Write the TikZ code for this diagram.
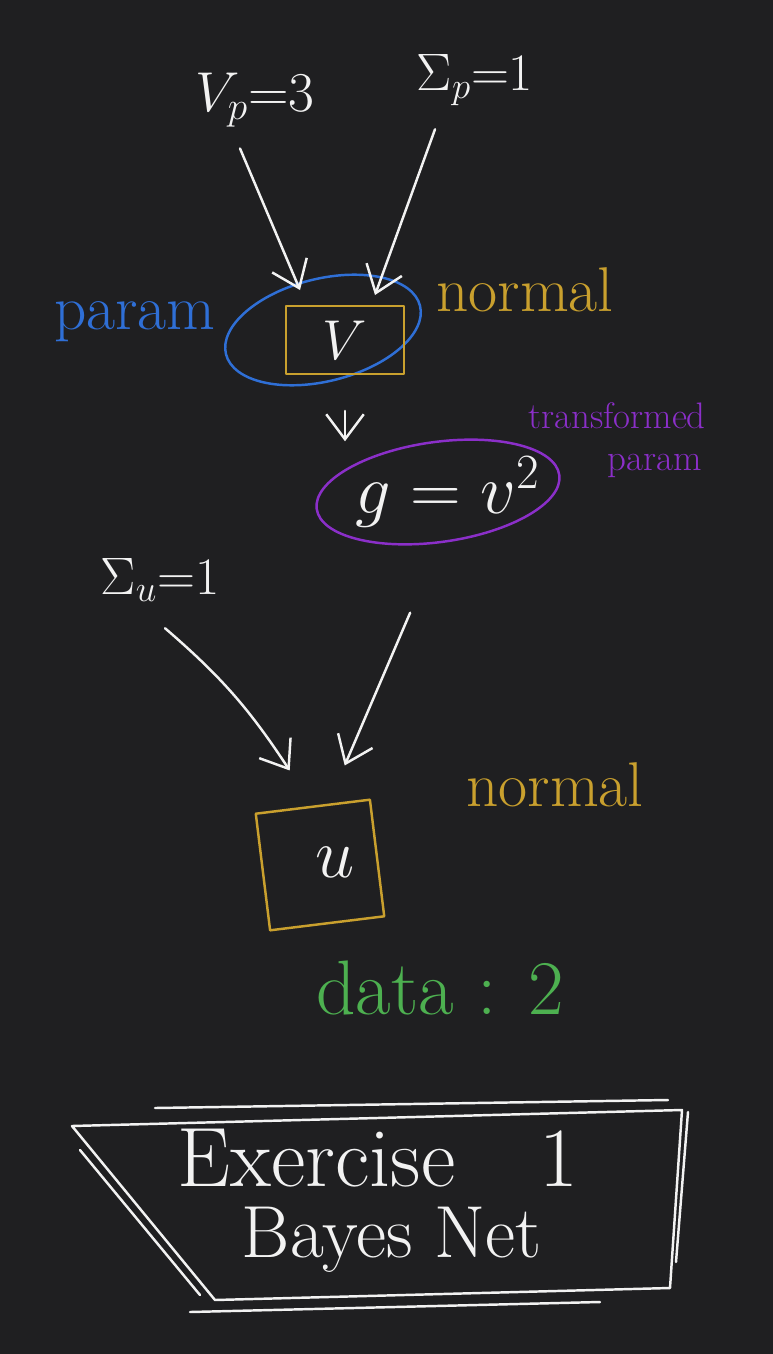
\RequirePackage{fix-cm}
\documentclass[tikz,border=0pt]{standalone}
\usetikzlibrary{arrows.meta,shapes.geometric}
\definecolor{board}{HTML}{1F1F21}
\definecolor{chalk}{HTML}{F2F2F2}
\definecolor{pblue}{HTML}{2F6FD6}
\definecolor{pgold}{HTML}{C9A02E}
\definecolor{ppurple}{HTML}{8B2FC9}
\definecolor{pgreen}{HTML}{4DB050}
\begin{document}
\begin{tikzpicture}[x=0.02cm, y=-0.02cm, line width=1.4pt,
  line cap=round, line join=round,
  every node/.style={inner sep=0pt},
  hand/.style={font=\fontsize{#1}{#1}\selectfont},
  arr/.style={draw=chalk, -{Straight Barb[length=0.5cm, width=0.75cm]}},
  box/.style={draw=pgold, rectangle}]
  \fill [board] (0,0) rectangle (773,1354);
  % priors of v
  \node [hand=32, chalk] (vp) at (255,100) {$V_p{=}3$};
  \node [hand=30, chalk] (sp) at (475,80) {$\Sigma_p{=}1$};
  % v : param, normal
  \node [ellipse, draw=pblue, minimum width=4cm, minimum height=2.05cm,
    rotate=14] (vpar) at (323,330) {};
  \node [box, minimum width=2.35cm, minimum height=1.35cm, hand=32,
    text=chalk] (V) at (345,340) {$V$};
  \node [hand=36, pblue] (lpar) at (135,322) {param};
  \node [hand=36, pgold] (lnorm1) at (525,290) {normal};
  % g : transformed param
  \node [ellipse, draw=ppurple, minimum width=4.9cm, minimum height=2cm,
    rotate=8] (gpar) at (438,492) {};
  \node [hand=40, chalk] (g) at (448,492) {$g = v^2$};
  \node [hand=21, ppurple] (ltr) at (617,416) {transformed};
  \node [hand=21, ppurple] (ltp) at (655,466) {param};
  % u : data
  \node [hand=30, chalk] (su) at (160,580) {$\Sigma_u{=}1$};
  \node [box, minimum width=2.3cm, minimum height=2.35cm, rotate=7]
    (ubox) at (320,865) {};
  \node [hand=40, chalk] (u) at (335,862) {$u$};
  \node [hand=36, pgold] (lnorm2) at (555,785) {normal};
  \node [hand=44, pgreen] (ldata) at (440,988) {data : 2};
  % arrows
  \draw [arr] ([xshift=-0.3cm, yshift=-0.4cm]vp.south)
    -- ([xshift=-0.9cm, yshift=0.3cm]V.north);
  \draw [arr] ([xshift=-0.8cm, yshift=-0.45cm]sp.south)
    -- ([xshift=0.6cm, yshift=0.2cm]V.north);
  \draw [arr, shorten <=0.72cm] (V.south) -- (V.south |- gpar.north);
  \draw [arr] ([xshift=0.1cm, yshift=-0.5cm]su.south) to [bend left=8]
    ([xshift=-0.46cm, yshift=0.7cm]ubox.north);
  \draw [arr] ([xshift=-0.7cm, yshift=-1.4cm]gpar.south)
    -- ([xshift=0.64cm, yshift=0.8cm]ubox.north);
  % title frame
  \node [hand=48, chalk] (ex1) at (378,1158) {Exercise\quad 1};
  \node [hand=42, chalk] (ex2) at (392,1240) {Bayes Net};
  \draw [chalk] (72,1126) -- (682,1110) -- (670,1288) -- (215,1300) -- cycle;
  \draw [chalk] (155,1108) -- (668,1100);
  \draw [chalk] (80,1150) -- (200,1295);
  \draw [chalk] (688,1112) -- (676,1262);
  \draw [chalk] (190,1312) -- (600,1302);
\end{tikzpicture}
\end{document}
